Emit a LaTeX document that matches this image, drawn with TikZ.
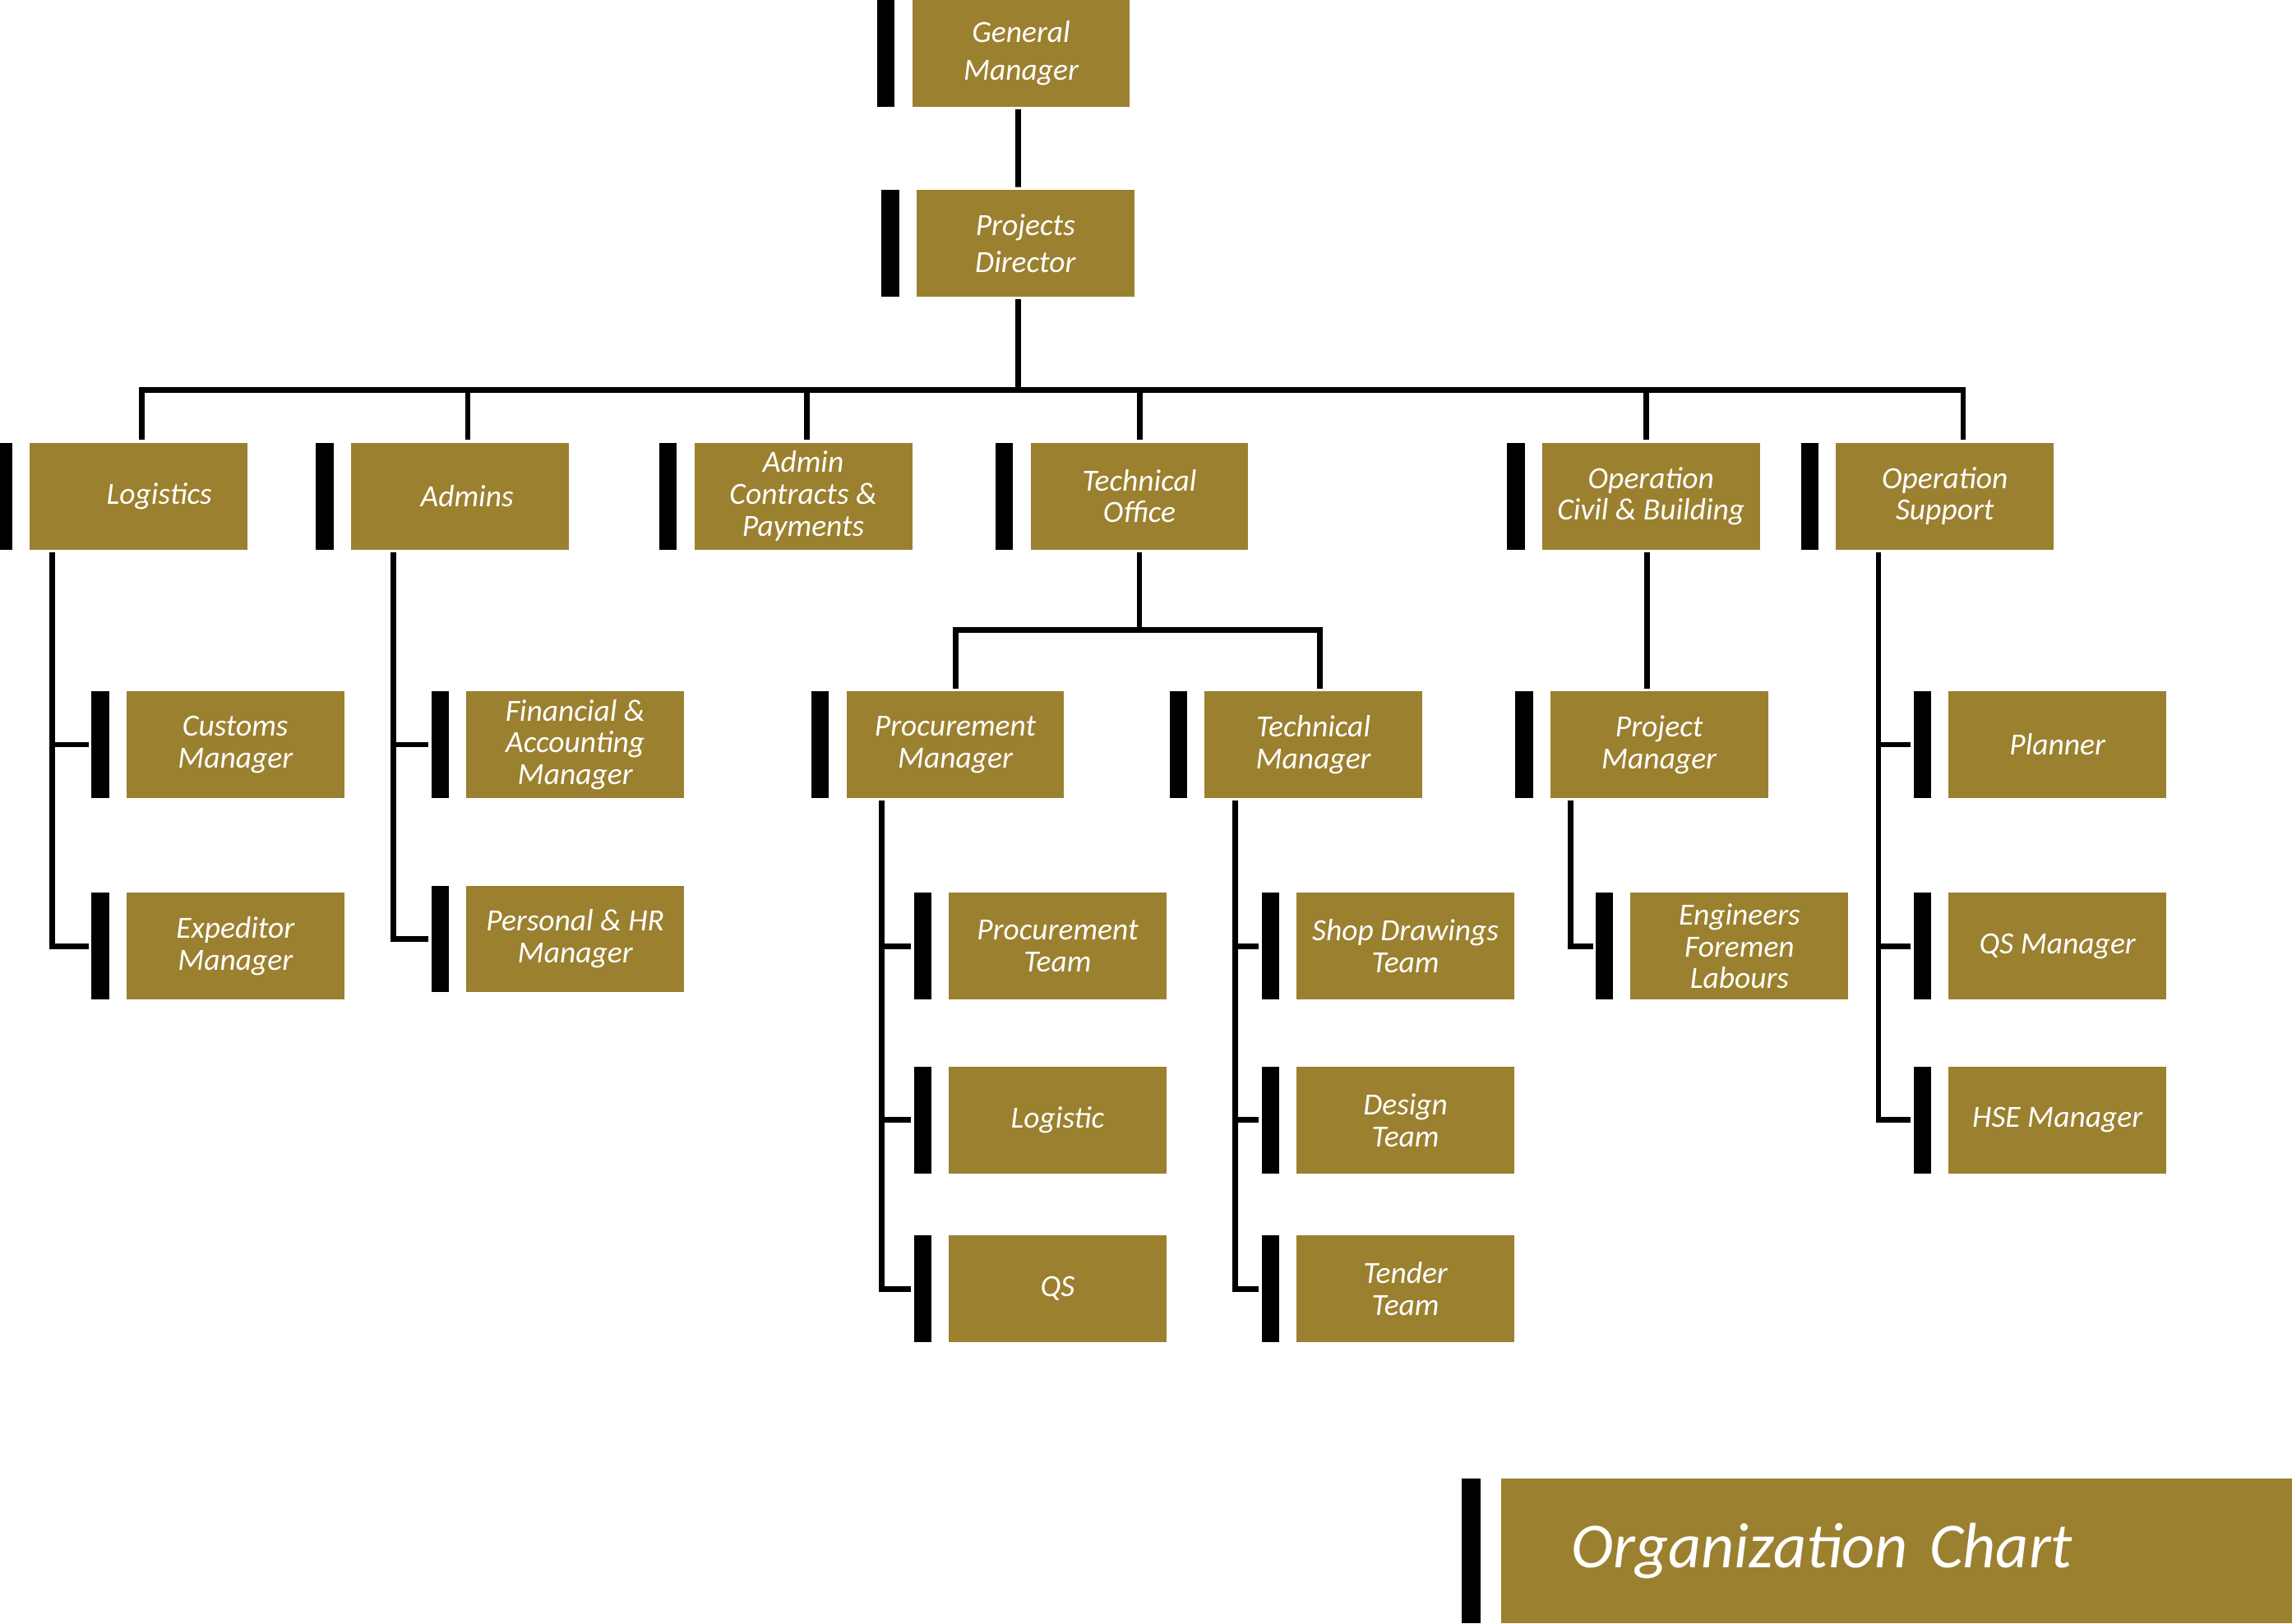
\documentclass[tikz,border=0pt]{standalone}
\usepackage{fontspec}
\setmainfont{Carlito}
\usetikzlibrary{positioning,calc}
\definecolor{brass}{RGB}{155,128,47}

\begin{document}
\begin{tikzpicture}[node distance=0.16cm, line width=2.2pt,
  box/.style={fill=brass, text=white, minimum width=2.98cm, minimum height=1.46cm, inner sep=1pt, align=center, font={\itshape\fontsize{12}{12.4}\selectfont}},
  bar/.style={fill=black, minimum width=0.24cm, minimum height=1.46cm, inner sep=0pt}]
\path[use as bounding box] (0,0) rectangle (31.36,-22.22);
% top of the chart
\path node[box, font={\itshape\fontsize{12}{14.6}\selectfont}] (gm) at (13.97,-0.73) {General\\Manager};
\path node[box, font={\itshape\fontsize{12}{14.6}\selectfont}] (pd) at (14.03,-3.33) {Projects\\Director};
% departments
\path node[box] (log) at (1.90,-6.79) {\hspace*{0.56cm}Logistics};
\path node[box] (adm) at (6.29,-6.79) {\hspace*{0.2cm}Admins};
\path node[box] (acp) at (10.99,-6.79) {Admin\\Contracts \&\\Payments};
\path node[box] (tof) at (15.59,-6.79) {Technical\\Office};
\path node[box] (ocb) at (22.59,-6.79) {Operation\\Civil \& Building};
\path node[box] (ops) at (26.61,-6.79) {Operation\\Support};
% third level
\path node[box] (cus) at (3.22,-10.19) {Customs\\Manager};
\path node[box] (exp) at (3.22,-12.95) {Expeditor\\Manager};
\path node[box] (fin) at (7.87,-10.19) {Financial \&\\Accounting\\Manager};
\path node[box] (per) at (7.87,-12.85) {Personal \& HR\\Manager};
\path node[box] (prm) at (13.07,-10.19) {Procurement\\Manager};
\path node[box] (tem) at (17.97,-10.19) {Technical\\Manager};
\path node[box] (prj) at (22.70,-10.19) {Project\\Manager};
\path node[box] (pln) at (28.15,-10.19) {Planner};
\path node[box] (qsm) at (28.15,-12.95) {QS Manager};
\path node[box] (hse) at (28.15,-15.33) {HSE Manager};
% teams
\path node[box] (pt) at (14.47,-12.95) {Procurement\\Team};
\path node[box] (lg) at (14.47,-15.33) {Logistic};
\path node[box] (qs) at (14.47,-17.64) {QS};
\path node[box] (sdt) at (19.23,-12.95) {Shop Drawings\\Team};
\path node[box] (dt) at (19.23,-15.33) {Design\\Team};
\path node[box] (tt) at (19.23,-17.64) {Tender\\Team};
\path node[box] (efl) at (23.80,-12.95) {Engineers\\Foremen\\Labours};
% title
\path node[box, minimum width=10.82cm, minimum height=1.98cm, inner xsep=0.96cm, text width=8.9cm, align=left, font={\itshape\fontsize{25}{30}\selectfont}] (title) at (25.95,-21.23) {Organization Chart};
\path node[bar, minimum width=0.26cm, minimum height=1.98cm, left=0.2cm of title] (title-bar) {};
% black bars
\foreach \n in {gm,pd,log,adm,acp,tof,ocb,ops,cus,exp,fin,per,prm,tem,prj,pln,qsm,hse,pt,lg,qs,sdt,dt,tt,efl}
  \path node[bar, left=of \n] (\n-bar) {};
% lines
\draw (gm.south) ++(-0.04,0) -- ($(pd.north)+(-0.1,0)$);
\coordinate (bus) at ($(pd.south)+(-0.1,-1.24)$);
\foreach \n/\dx in {log/0.04,adm/0.11,acp/0.05,tof/0.01,ocb/-0.07,ops/0.25}
  \draw ($(pd.south)+(-0.1,0)$) -- (bus) -| ($(\n.north)+(\dx,0)$);
\coordinate (tsplit) at ($(tof.south)+(0,-1.06)$);
\foreach \n/\dx in {prm/0.01,tem/0.09}
  \draw (tof.south) -- (tsplit) -| ($(\n.north)+(\dx,0)$);
\draw ($(ocb.south)+(-0.05,0)$) -- ($(ocb.south |- prj.north)+(-0.05,0)$);
\foreach \n in {cus,exp}
  \draw ($(log.south west)+(0.34,0)$) |- (\n-bar.west);
\foreach \n in {fin,per}
  \draw ($(adm.south west)+(0.62,0)$) |- (\n-bar.west);
\foreach \n in {pt,lg,qs}
  \draw ($(prm.south west)+(0.52,0)$) |- (\n-bar.west);
\foreach \n in {sdt,dt,tt}
  \draw ($(tem.south west)+(0.46,0)$) |- (\n-bar.west);
\draw ($(prj.south west)+(0.32,0)$) |- (efl-bar.west);
\foreach \n in {pln,qsm,hse}
  \draw ($(ops.south west)+(0.62,0)$) |- (\n-bar.west);
\end{tikzpicture}
\end{document}
